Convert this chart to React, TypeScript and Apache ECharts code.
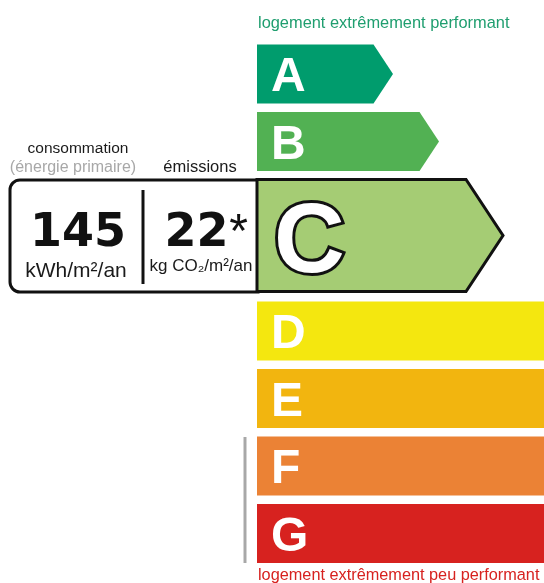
import React, { useEffect, useRef } from "react";
import * as echarts from "echarts";

// ---- data ----
const CLASSES = ["A", "B", "C", "D", "E", "F", "G"];
const ARROW_LENGTHS = [136, 182, 246, 330, 360, 390, 420];
const RATING = "C";
const CONSUMPTION = 145;
const EMISSIONS = 22;
const CONSUMPTION_UNIT = "kWh/m²/an";
const EMISSIONS_UNIT = "kg CO₂/m²/an";
const TOP_LABEL = "logement extrêmement performant";
const BOTTOM_LABEL = "logement extrêmement peu performant";

// ---- styles ----
const CLASS_COLORS = ["#009c6d", "#52b153", "#a5cc74", "#f4e70f", "#f2b50f", "#eb8235", "#d7221f"];
const W = 544;
const H = 583;
const ROW_PX = 67.5;
const ROW_OFFSET = 44.5;
const ARROW_X0 = 257;
const BAR = 0.874;
const RATING_SPAN = 1.807;
const RATING_BAR = 1.66;
const SANS = "'Liberation Sans', Arial, sans-serif";

export default function App() {
  const ref = useRef<HTMLDivElement>(null);
  useEffect(() => {
    if (!ref.current) return;
    const chart = echarts.init(ref.current, undefined, { renderer: "svg" });
    const ratingIdx = CLASSES.indexOf(RATING);

    const renderItem = (params: any, api: any) => {
      const i = api.value(0);
      const len = api.value(1);
      const isRating = i === ratingIdx;
      const start = i + (i > ratingIdx ? RATING_SPAN - 1 : 0);
      const h = isRating ? RATING_BAR : BAR;
      const p0 = api.coord([0, start]);
      const p1 = api.coord([0, start + h]);
      const pTip = api.coord([len, start]);
      const x0 = p0[0];
      const y0 = p0[1];
      const y1 = p1[1];
      const half = (y1 - y0) / 2;
      const xTip = pTip[0];
      const xBody = xTip - half * 0.66;
      const children: any[] = [
        {
          type: "polygon",
          shape: {
            points: [
              [x0, y0],
              [xBody, y0],
              [xTip, y0 + half],
              [xBody, y1],
              [x0, y1],
            ],
          },
          style: isRating
            ? { fill: CLASS_COLORS[i], stroke: "#111", lineWidth: 3, lineJoin: "miter" }
            : { fill: CLASS_COLORS[i] },
        },
        {
          type: "text",
          style: isRating
            ? {
                text: CLASSES[i],
                x: x0 + 17,
                y: y0 + half + 2,
                fill: "#fff",
                stroke: "#111",
                lineWidth: 6,
                strokeFirst: true,
                fontFamily: SANS,
                fontWeight: "bold",
                fontSize: 98,
                align: "left",
                verticalAlign: "middle",
              }
            : {
                text: CLASSES[i],
                x: x0 + 14,
                y: y0 + half + 1,
                fill: "#fff",
                fontFamily: SANS,
                fontWeight: "bold",
                fontSize: 48,
                align: "left",
                verticalAlign: "middle",
              },
        },
      ];
      return { type: "group", children };
    };

    const dark = "#1a1a1a";
    const DEJAVU = "'DejaVu Sans', sans-serif";
    chart.setOption({
      animation: false,
      grid: { left: 0, right: 0, top: 0, bottom: 0 },
      xAxis: { type: "value", min: -ARROW_X0, max: W - ARROW_X0, show: false },
      yAxis: {
        type: "value",
        inverse: true,
        min: -ROW_OFFSET / ROW_PX,
        max: (H - ROW_OFFSET) / ROW_PX,
        show: false,
      },
      series: [
        {
          type: "custom",
          z: 2,
          renderItem,
          data: CLASSES.map((c, i) => [i, ARROW_LENGTHS[i]]),
          clip: false,
        },
      ],
      graphic: [
        {
          type: "rect",
          z: 1,
          shape: { x: 10, y: 180, width: 248, height: 112, r: [10, 0, 0, 10] },
          style: { fill: "#fff", stroke: "#111", lineWidth: 3 },
        },
        {
          type: "line",
          z: 3,
          shape: { x1: 143, y1: 190, x2: 143, y2: 284 },
          style: { stroke: "#111", lineWidth: 3 },
        },
        {
          type: "line",
          z: 3,
          shape: { x1: 245, y1: 437, x2: 245, y2: 563 },
          style: { stroke: "#a8a8a8", lineWidth: 3 },
        },
        {
          type: "text",
          z: 3,
          style: { text: TOP_LABEL, x: 258, y: 22, fill: "#1f9e6f", fontFamily: SANS, fontSize: 16.4, verticalAlign: "middle" },
        },
        {
          type: "text",
          z: 3,
          style: { text: BOTTOM_LABEL, x: 258, y: 573.5, fill: "#d7221f", fontFamily: SANS, fontSize: 16.3, verticalAlign: "middle" },
        },
        {
          type: "text",
          z: 3,
          style: { text: "consommation", x: 78, y: 147, fill: dark, fontFamily: SANS, fontSize: 15.5, align: "center", verticalAlign: "middle" },
        },
        {
          type: "text",
          z: 3,
          style: { text: "(énergie primaire)", x: 73, y: 166, fill: "#a8a8a8", fontFamily: SANS, fontSize: 16, align: "center", verticalAlign: "middle" },
        },
        {
          type: "text",
          z: 3,
          style: { text: "émissions", x: 200, y: 166, fill: dark, fontFamily: SANS, fontSize: 16.5, align: "center", verticalAlign: "middle" },
        },
        {
          type: "text",
          z: 3,
          style: { text: String(CONSUMPTION), x: 78, y: 230, fill: "#111", fontFamily: DEJAVU, fontWeight: "bold", fontSize: 46, align: "center", verticalAlign: "middle" },
        },
        {
          type: "text",
          z: 3,
          style: { text: CONSUMPTION_UNIT, x: 76, y: 269, fill: dark, fontFamily: SANS, fontSize: 21, align: "center", verticalAlign: "middle" },
        },
        {
          type: "text",
          z: 3,
          style: { text: String(EMISSIONS), x: 196.5, y: 230, fill: "#111", fontFamily: DEJAVU, fontWeight: "bold", fontSize: 46, align: "center", verticalAlign: "middle" },
        },
        {
          type: "text",
          z: 3,
          style: { text: "*", x: 238.5, y: 230, fill: "#111", fontFamily: SANS, fontSize: 48, align: "center", verticalAlign: "middle" },
        },
        {
          type: "text",
          z: 3,
          style: { text: EMISSIONS_UNIT, x: 201, y: 265, fill: dark, fontFamily: SANS, fontSize: 17, align: "center", verticalAlign: "middle" },
        },
      ],
    });
    return () => chart.dispose();
  }, []);
  return <div ref={ref} style={{ position: "fixed", left: 0, top: 0, width: W, height: H }} />;
}
